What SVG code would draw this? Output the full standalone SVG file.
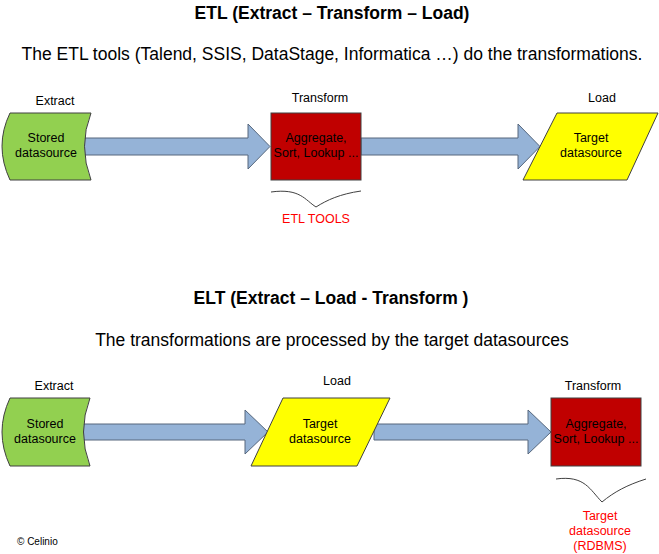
<svg xmlns="http://www.w3.org/2000/svg" width="659" height="554" viewBox="0 0 659 554">
<style>
text{font-family:"Liberation Sans",Arial,sans-serif;fill:#000}
.t{font-size:17.5px;font-weight:bold;text-anchor:middle}
.s{font-size:17.5px;text-anchor:middle}
.l{font-size:12.5px;text-anchor:middle}
.r{fill:#ff0000}
.g{fill:#92d050;stroke:#404040;stroke-width:1}
.y{fill:#ffff00;stroke:#404040;stroke-width:1}
.x{fill:#c00000;stroke:#404040;stroke-width:1}
.a{fill:#95b3d7;stroke:#56677d;stroke-width:1}
.b{fill:none;stroke:#404040;stroke-width:1}
</style>
<rect width="659" height="554" fill="#fff"/>
<text class="t" x="332" y="19">ETL (Extract – Transform – Load)</text>
<text class="s" x="332" y="60">The ETL tools (Talend, SSIS, DataStage, Informatica …) do the transformations.</text>
<text class="t" x="331" y="304">ELT (Extract – Load - Transform )</text>
<text class="s" x="332" y="346">The transformations are processed by the target datasources</text>

<g id="connectors">
<path class="a" d="M83,138 H248 V124 L270,146.5 L248,169 V155 H83 Z"/>
<path class="a" d="M361,138 H518 V124 L540,146.5 L518,169 V155 H361 Z"/>
<path class="a" d="M82,424 H245 V410 L268,432 L245,454 V440 H82 Z"/>
<path class="a" d="M374,424 H528 V410 L551,432 L528,454 V440 H374 Z"/>
</g>

<g id="etl-extract">
<text class="l" x="55" y="105">Extract</text>
<path class="g" d="M10,113 H91 Q78,146 91,180 H10 Q-6,146 10,113 Z"/>
<text class="l" x="46" y="142">Stored</text>
<text class="l" x="46" y="157">datasource</text>
</g>
<g id="etl-transform">
<text class="l" x="320" y="102">Transform</text>
<rect class="x" x="271" y="113" width="90" height="67"/>
<text class="l" x="316" y="142">Aggregate,</text>
<text class="l" x="316" y="157">Sort, Lookup ...</text>
<path class="b" d="M271,192 C300,188 305,200 316,207 C327,200 340,194 361,191"/>
<text class="l r" x="316" y="223">ETL TOOLS</text>
</g>
<g id="etl-load">
<text class="l" x="602" y="102">Load</text>
<path class="y" d="M557,113 H658 L627,180 H523 Z"/>
<text class="l" x="591" y="142">Target</text>
<text class="l" x="591" y="157">datasource</text>
</g>

<g id="elt-extract">
<text class="l" x="54" y="390">Extract</text>
<path class="g" d="M10,398 H90 Q77,432 90,466 H10 Q-6,432 10,398 Z"/>
<text class="l" x="45" y="428">Stored</text>
<text class="l" x="45" y="443">datasource</text>
</g>
<g id="elt-load">
<text class="l" x="337" y="385">Load</text>
<path class="y" d="M283,398 H390 L357,466 H251 Z"/>
<text class="l" x="320" y="428">Target</text>
<text class="l" x="320" y="443">datasource</text>
</g>
<g id="elt-transform">
<text class="l" x="593" y="390">Transform</text>
<rect class="x" x="551" y="398" width="90" height="68"/>
<text class="l" x="596" y="428">Aggregate,</text>
<text class="l" x="596" y="443">Sort, Lookup ...</text>
<path class="b" d="M556,479 C585,475 590,490 602,502 C614,492 627,485 646,479"/>
<text class="l r" x="600" y="520">Target</text>
<text class="l r" x="600" y="535">datasource</text>
<text class="l r" x="600" y="550">(RDBMS)</text>
</g>
<text x="17" y="545" style="font-size:10px">© Celinio</text>
</svg>
